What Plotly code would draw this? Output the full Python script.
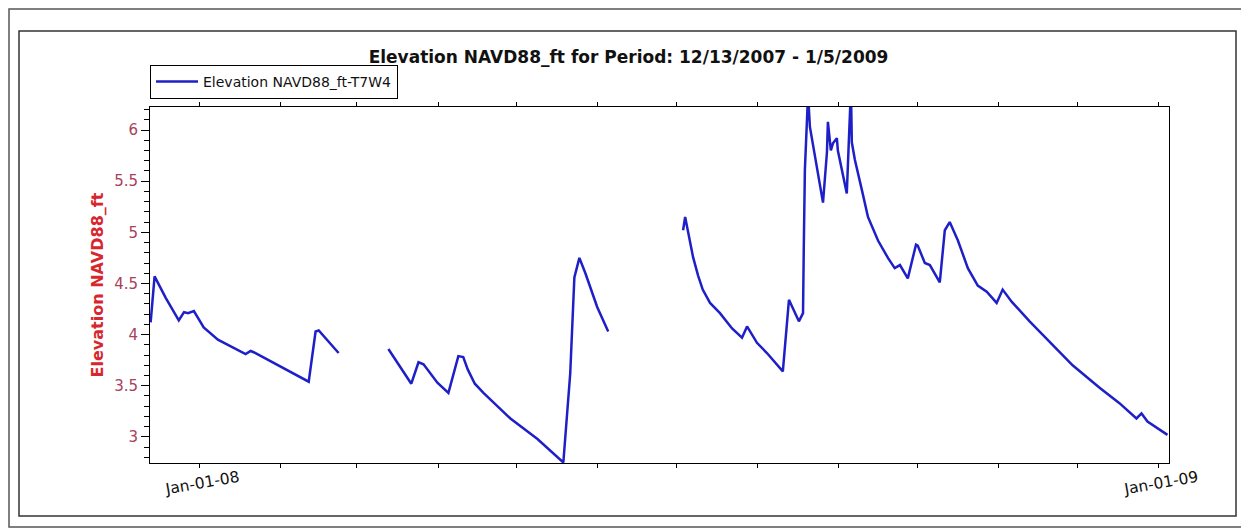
import plotly.graph_objects as go

# Elevation readings for well T7W4, three logging runs with gaps between them.
seg1_dates = [
    "2007-12-13 06:00", "2007-12-14 18:00", "2007-12-19 00:00", "2007-12-24 00:00",
    "2007-12-26 00:00", "2007-12-27 12:00", "2007-12-29 18:00", "2008-01-02 12:00",
    "2008-01-07 22:00", "2008-01-18 12:00", "2008-01-20 10:00", "2008-01-22 07:00",
    "2008-02-11 14:00", "2008-02-14 05:00", "2008-02-15 10:00", "2008-02-23 00:00",
]
seg1_values = [
    4.12, 4.57, 4.36, 4.14,
    4.22, 4.21, 4.23, 4.07,
    3.95, 3.81, 3.84, 3.82,
    3.54, 4.03, 4.04, 3.82,
]

seg2_dates = [
    "2008-03-13 00:00", "2008-03-21 18:00", "2008-03-24 12:00", "2008-03-26 10:00",
    "2008-03-31 17:00", "2008-04-04 22:00", "2008-04-08 17:00", "2008-04-10 14:00",
    "2008-04-12 07:00", "2008-04-15 00:00", "2008-04-18 07:00", "2008-04-28 14:00",
    "2008-05-08 22:00", "2008-05-18 19:00", "2008-05-21 10:00", "2008-05-23 00:00",
    "2008-05-24 22:00", "2008-05-27 05:00", "2008-05-31 17:00", "2008-06-04 22:00",
]
seg2_values = [
    3.86, 3.52, 3.73, 3.71,
    3.53, 3.43, 3.79, 3.78,
    3.66, 3.52, 3.43, 3.18,
    2.98, 2.75, 3.62, 4.56,
    4.75, 4.60, 4.27, 4.03,
]

seg3_dates = [
    "2008-07-03 12:00", "2008-07-04 07:00", "2008-07-07 07:00", "2008-07-09 05:00",
    "2008-07-11 00:00", "2008-07-13 19:00", "2008-07-17 14:00", "2008-07-22 05:00",
    "2008-07-26 00:00", "2008-07-27 22:00", "2008-07-31 17:00", "2008-08-04 12:00",
    "2008-08-10 14:00", "2008-08-12 22:00", "2008-08-16 17:00", "2008-08-18 07:00",
    "2008-08-18 14:00", "2008-08-19 00:00", "2008-08-20 05:00", "2008-08-20 22:00",
    "2008-08-25 22:00", "2008-08-27 10:00", "2008-08-27 19:00", "2008-08-28 22:00",
    "2008-08-29 17:00", "2008-08-31 05:00", "2008-08-31 14:00", "2008-09-04 00:00",
    "2008-09-04 19:00", "2008-09-05 14:00", "2008-09-05 22:00", "2008-09-07 02:00",
    "2008-09-09 19:00", "2008-09-12 02:00", "2008-09-15 22:00", "2008-09-19 17:00",
    "2008-09-22 07:00", "2008-09-24 07:00", "2008-09-27 07:00", "2008-09-30 10:00",
    "2008-10-01 02:00", "2008-10-03 19:00", "2008-10-05 17:00", "2008-10-09 12:00",
    "2008-10-11 10:00", "2008-10-13 07:00", "2008-10-16 10:00", "2008-10-20 05:00",
    "2008-10-24 00:00", "2008-10-27 10:00", "2008-10-31 05:00", "2008-11-02 12:00",
    "2008-11-06 00:00", "2008-11-12 19:00", "2008-11-29 05:00", "2008-12-09 12:00",
    "2008-12-17 02:00", "2008-12-23 14:00", "2008-12-25 12:00", "2008-12-27 19:00",
    "2009-01-04 10:00",
]
seg3_values = [
    5.02, 5.15, 4.76, 4.58,
    4.44, 4.31, 4.21, 4.06,
    3.97, 4.08, 3.92, 3.82,
    3.64, 4.34, 4.13, 4.21,
    4.86, 5.61, 6.35, 6.03,
    5.29, 5.78, 6.08, 5.80,
    5.87, 5.92, 5.80, 5.38,
    5.90, 6.40, 5.88, 5.71,
    5.41, 5.15, 4.92, 4.75,
    4.65, 4.68, 4.55, 4.88,
    4.87, 4.70, 4.68, 4.51,
    5.02, 5.10, 4.92, 4.65,
    4.48, 4.42, 4.31, 4.44,
    4.32, 4.13, 3.70, 3.48,
    3.33, 3.18, 3.23, 3.15,
    3.02,
]

month_ticks = [
    "2008-01-01", "2008-02-01", "2008-03-01", "2008-04-01", "2008-05-01",
    "2008-06-01", "2008-07-01", "2008-08-01", "2008-09-01", "2008-10-01",
    "2008-11-01", "2008-12-01", "2009-01-01",
]
month_labels = ["Jan-01-08"] + [""] * 11 + ["Jan-01-09"]

# The page body adds an 8px margin, so work in screen pixels and shift.
OFF = 8
W, H = 1249 - OFF, 529 - OFF
L, R, T, B = 150 - OFF, 1169 - OFF, 107 - OFF, 463 - OFF


def px(x, y):
    """Screen pixel position -> paper coordinates."""
    x, y = x - OFF, y - OFF
    return (x - L) / (R - L), (B - y) / (B - T)


def main():
    # Join the runs, leaving a gap between them.
    dates = seg1_dates + [None] + seg2_dates + [None] + seg3_dates
    values = seg1_values + [None] + seg2_values + [None] + seg3_values

    fig = go.Figure()
    fig.add_trace(go.Scatter(
        x=dates, y=values, mode="lines", connectgaps=False,
        name="Elevation NAVD88_ft-T7W4",
        line=dict(color="#1f1fc8", width=2.5),
    ))

    font = "DejaVu Sans, Arial, sans-serif"
    fig.update_layout(
        width=W, height=H,
        margin=dict(l=L, r=W - R, t=T, b=H - B, autoexpand=False),
        paper_bgcolor="white", plot_bgcolor="white",
        font=dict(family=font, color="black"),
        showlegend=True,
        title=dict(
            text="<b>Elevation NAVD88_ft for Period: 12/13/2007 - 1/5/2009</b>",
            font=dict(size=17, color="#111111"),
            xref="container", x=(628.5 - OFF) / W, xanchor="center",
            yref="container", y=1 - (57 - OFF) / H, yanchor="middle",
        ),
        legend=dict(
            x=0, y=px(0, 99)[1], xanchor="left", yanchor="bottom",
            bordercolor="black", borderwidth=1, bgcolor="white",
            font=dict(size=14, color="#111111"),
            itemwidth=42, tracegroupgap=0,
        ),
    )

    fig.update_xaxes(
        range=["2007-12-13", "2009-01-05"],
        tickvals=month_ticks, ticktext=month_labels,
        tickangle=-10, ticklabelshift=39, ticklabelstandoff=-5,
        ticks="outside", ticklen=4, tickcolor="black",
        showline=True, linecolor="black", linewidth=1, mirror="ticks",
        showgrid=False, zeroline=False,
        tickfont=dict(size=15.5, color="#111111"),
    )
    fig.update_yaxes(
        range=[2.745, 6.225], dtick=0.5, tick0=3,
        ticks="outside", ticklen=8, tickcolor="black",
        minor=dict(dtick=0.1, ticks="outside", ticklen=5, tickcolor="black"),
        showline=True, linecolor="black", linewidth=1, mirror=True,
        showgrid=False, zeroline=False,
        tickfont=dict(size=15, color="#a8405a"),
        title=dict(text="<b>Elevation NAVD88_ft</b>",
                   font=dict(size=16, color="#d8262e"), standoff=6),
    )

    # Frames around the chart.
    x0, y0 = px(19, 31)
    x1, y1 = px(1236, 516)
    fig.add_shape(type="rect", xref="paper", yref="paper",
                  x0=x0, y0=y0, x1=x1, y1=y1,
                  line=dict(color="#333333", width=1.5))
    x0, y0 = px(OFF + 1, OFF + 1)
    x1, y1 = px(1245, 527)
    fig.add_shape(type="rect", xref="paper", yref="paper",
                  x0=x0, y0=y0, x1=x1, y1=y1,
                  line=dict(color="#555555", width=1.5))

    fig.write_html("out.html")


if __name__ == "__main__":
    main()
